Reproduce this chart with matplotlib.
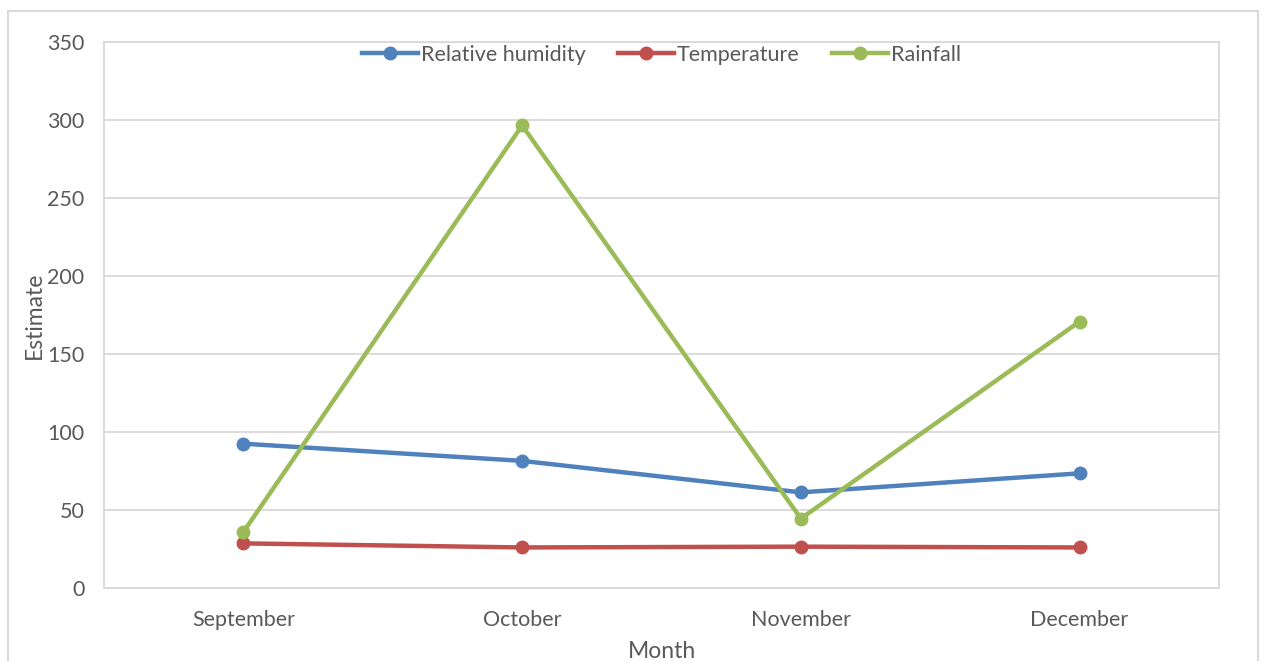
import matplotlib.pyplot as plt
import matplotlib.patches as patches
import numpy as np

months = ["September", "October", "November", "December"]
humidity = [92.5, 81.5, 61.3, 73.5]
temperature = [28.6, 26.0, 26.5, 26.0]
rainfall = [35.9, 296.5, 44.5, 170.8]

text_col = "#595959"
grid_col = "#D9D9D9"

plt.rcParams['font.family'] = ['Lato', 'DejaVu Sans']

fig = plt.figure(figsize=(12.64, 6.61), dpi=100)
ax = fig.add_axes([104 / 1264, 73 / 661, 1115 / 1264, 546 / 661])

x = np.arange(len(months)) + 0.5
ax.plot(x, humidity, "-o", color="#4F81BD", lw=3.2, ms=9, label="Relative humidity")
ax.plot(x, temperature, "-o", color="#C0504D", lw=3.2, ms=9, label="Temperature")
ax.plot(x, rainfall, "-o", color="#9BBB59", lw=3.2, ms=9, label="Rainfall")

ax.set_xlim(0, len(months))
ax.set_ylim(0, 350)
ax.set_yticks(np.arange(0, 351, 50))
ax.set_xticks(x)
ax.set_xticklabels(months)
ax.yaxis.grid(True, color=grid_col, lw=1.3)
ax.set_axisbelow(True)
for s in ax.spines.values():
    s.set_color(grid_col)
    s.set_linewidth(1.3)
ax.tick_params(length=0, labelsize=15.5, labelcolor=text_col, pad=14)
ax.tick_params(axis="x", pad=16)

ax.set_xlabel("Month", fontsize=16.5, color=text_col, labelpad=8)
ax.set_ylabel("Estimate", fontsize=16.5, color=text_col, labelpad=2)

ax.legend(loc="upper center", bbox_to_anchor=(0.5, 1.03), ncol=3, frameon=False,
          fontsize=15.5, labelcolor=text_col, handlelength=2.6, columnspacing=1.5,
          handletextpad=0.15)

# outer chart frame
frame = patches.Rectangle((8 / 1264, -0.05), 1250 / 1264, 0.05 + 650 / 661,
                          transform=fig.transFigure, fill=False,
                          edgecolor=grid_col, lw=1.5)
fig.patches.append(frame)

fig.savefig("out.png", dpi=100)
